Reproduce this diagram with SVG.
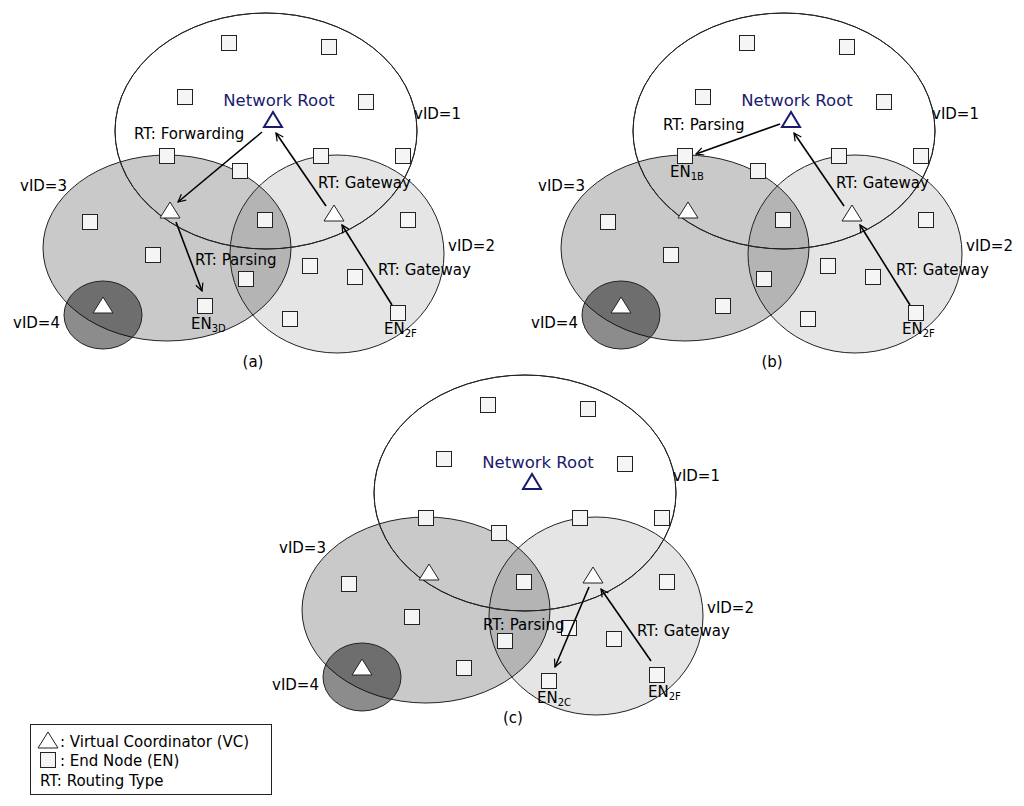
<svg xmlns="http://www.w3.org/2000/svg" xmlns:xlink="http://www.w3.org/1999/xlink" width="1024" height="806" viewBox="0 0 1024 806">
<style>
text{font-family:"DejaVu Sans",sans-serif;font-size:15px;fill:#000}
.sub{font-size:10px}
.root{fill:#1a1a6e;font-size:16.5px}
.e1{fill:none;stroke:#222;stroke-width:1}
.e3{fill:#000;fill-opacity:0.21;stroke:#222}
.e2{fill:#000;fill-opacity:0.1;stroke:#222}
.e4{fill:#000;fill-opacity:0.45;stroke:#222}
.ar{stroke:#000;stroke-width:1.6;fill:none;marker-end:url(#ah)}
</style>
<defs>
<marker id="ah" viewBox="0 0 12 12" refX="11" refY="6" markerWidth="9" markerHeight="9" markerUnits="userSpaceOnUse" orient="auto"><path d="M1,1 L11,6 L1,11" fill="none" stroke="#000" stroke-width="1.6"/></marker>
<rect id="sq" x="-7.5" y="-7.5" width="15" height="15" fill="#f5f5f5" stroke="#222" stroke-width="1"/>
<polygon id="tr" points="0,-9 -10,7 10,7" fill="#fff" stroke="#222" stroke-width="1"/>
<polygon id="trr" points="0,-8 -9,7 9,7" fill="#fff" stroke="#1a1a6e" stroke-width="2"/>
<g id="bg">
<ellipse class="e1" cx="266" cy="131" rx="151" ry="118" fill="#fff"/>
<ellipse class="e3" cx="167" cy="248" rx="124" ry="93"/>
<ellipse class="e2" cx="337" cy="254" rx="107" ry="99"/>
<ellipse class="e1" cx="266" cy="131" rx="151" ry="118"/>
<ellipse class="e4" cx="103" cy="315" rx="39" ry="34"/>
</g>
<g id="sqs">
<use href="#sq" x="229" y="43"/><use href="#sq" x="329" y="47"/><use href="#sq" x="185" y="97"/><use href="#sq" x="366" y="102"/>
<use href="#sq" x="167" y="156"/><use href="#sq" x="321" y="156"/><use href="#sq" x="403" y="156"/><use href="#sq" x="240" y="171"/>
<use href="#sq" x="90" y="222"/><use href="#sq" x="265" y="220"/><use href="#sq" x="408" y="220"/><use href="#sq" x="153" y="255"/>
<use href="#sq" x="310" y="266"/><use href="#sq" x="355" y="277"/><use href="#sq" x="246" y="279"/><use href="#sq" x="205" y="306"/>
<use href="#sq" x="398" y="313"/><use href="#sq" x="290" y="319"/>
</g>
<g id="trs">
<use href="#trr" x="273" y="120"/><use href="#tr" x="170" y="211"/><use href="#tr" x="334" y="214"/><use href="#tr" x="103" y="306"/>
</g>
<g id="vids">
<text x="414" y="119">vID=1</text><text x="20" y="191">vID=3</text><text x="448" y="251">vID=2</text><text x="13" y="328">vID=4</text>
<text class="root" x="279" y="106" text-anchor="middle">Network Root</text>
</g>
</defs>

<g id="panel-a">
<use href="#bg"/><use href="#sqs"/><use href="#trs"/><use href="#vids"/>
<g id="conn-a">
<line class="ar" x1="262" y1="132" x2="178" y2="202"/>
<line class="ar" x1="326" y1="206" x2="276" y2="133"/>
<line class="ar" x1="176" y1="222" x2="202" y2="291"/>
<line class="ar" x1="392" y1="305" x2="342" y2="225"/>
</g>
<text x="134" y="139">RT: Forwarding</text>
<text x="318" y="188">RT: Gateway</text>
<text x="195" y="265">RT: Parsing</text>
<text x="378" y="275">RT: Gateway</text>
<text x="191" y="329">EN<tspan class="sub" dy="3">3D</tspan></text>
<text x="384" y="334">EN<tspan class="sub" dy="3">2F</tspan></text>
<text x="253" y="367" text-anchor="middle">(a)</text>
</g>

<g id="panel-b" transform="translate(518,0)">
<use href="#bg"/><use href="#sqs"/><use href="#trs"/><use href="#vids"/>
<g id="conn-b">
<line class="ar" x1="262" y1="124" x2="178" y2="154"/>
<line class="ar" x1="326" y1="206" x2="276" y2="133"/>
<line class="ar" x1="392" y1="305" x2="342" y2="225"/>
</g>
<text x="145" y="130">RT: Parsing</text>
<text x="318" y="188">RT: Gateway</text>
<text x="378" y="275">RT: Gateway</text>
<text x="152" y="177">EN<tspan class="sub" dy="3">1B</tspan></text>
<text x="384" y="334">EN<tspan class="sub" dy="3">2F</tspan></text>
<text x="254" y="367" text-anchor="middle">(b)</text>
</g>

<g id="panel-c" transform="translate(259,362)">
<use href="#bg"/><use href="#sqs"/><use href="#trs"/><use href="#vids"/>
<g id="conn-c">
<line class="ar" x1="330" y1="225" x2="296" y2="305"/>
<line class="ar" x1="392" y1="299" x2="342" y2="227"/>
</g>
<text x="224" y="268">RT: Parsing</text>
<text x="378" y="274">RT: Gateway</text>
<text x="278" y="341">EN<tspan class="sub" dy="3">2C</tspan></text>
<text x="389" y="335">EN<tspan class="sub" dy="3">2F</tspan></text>
<text x="254" y="361" text-anchor="middle">(c)</text>
</g>

<g id="legend">
<rect x="30.5" y="724.5" width="241" height="70" fill="#fff" stroke="#222"/>
<use href="#tr" x="48" y="741"/>
<text x="60" y="747">: Virtual Coordinator (VC)</text>
<use href="#sq" x="48" y="760"/>
<text x="60" y="766">: End Node (EN)</text>
<text x="40" y="786">RT: Routing Type</text>
</g>
</svg>
